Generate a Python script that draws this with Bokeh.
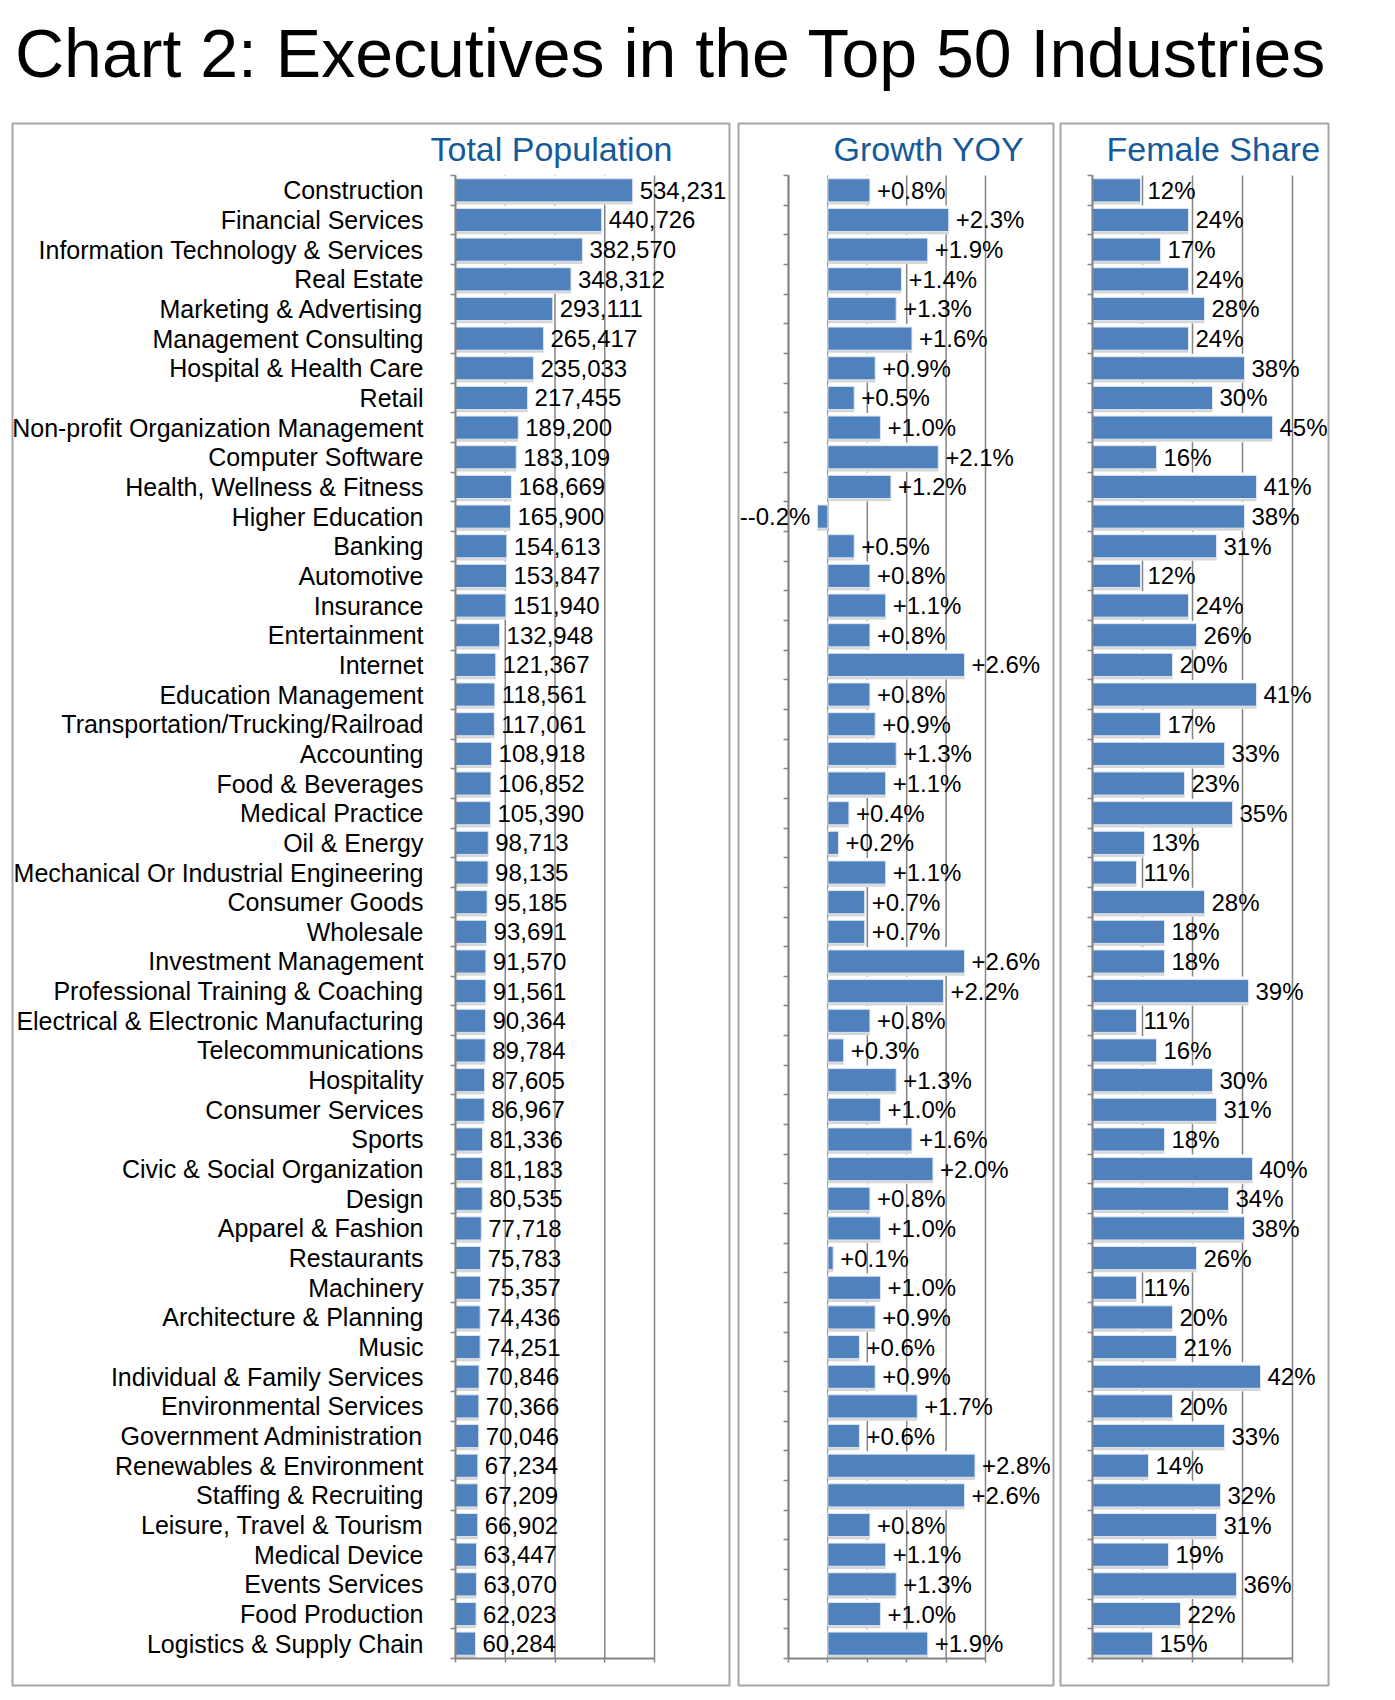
from bokeh.plotting import figure
from bokeh.models import (ColumnDataSource, Range1d, FixedTicker, LabelSet, Label, Div)
from bokeh.core.properties import value
from bokeh.layouts import row, column
from bokeh.embed import file_html
from bokeh.resources import INLINE

# ---------------- data ----------------
industries = [
    "Construction", "Financial Services", "Information Technology & Services", "Real Estate",
    "Marketing & Advertising", "Management Consulting", "Hospital & Health Care", "Retail",
    "Non-profit Organization Management", "Computer Software", "Health, Wellness & Fitness",
    "Higher Education", "Banking", "Automotive", "Insurance", "Entertainment", "Internet",
    "Education Management", "Transportation/Trucking/Railroad", "Accounting", "Food & Beverages",
    "Medical Practice", "Oil & Energy", "Mechanical Or Industrial Engineering", "Consumer Goods",
    "Wholesale", "Investment Management", "Professional Training & Coaching",
    "Electrical & Electronic Manufacturing", "Telecommunications", "Hospitality",
    "Consumer Services", "Sports", "Civic & Social Organization", "Design", "Apparel & Fashion",
    "Restaurants", "Machinery", "Architecture & Planning", "Music", "Individual & Family Services",
    "Environmental Services", "Government Administration", "Renewables & Environment",
    "Staffing & Recruiting", "Leisure, Travel & Tourism", "Medical Device", "Events Services",
    "Food Production", "Logistics & Supply Chain",
]
population = [
    534231, 440726, 382570, 348312, 293111, 265417, 235033, 217455, 189200, 183109,
    168669, 165900, 154613, 153847, 151940, 132948, 121367, 118561, 117061, 108918,
    106852, 105390, 98713, 98135, 95185, 93691, 91570, 91561, 90364, 89784,
    87605, 86967, 81336, 81183, 80535, 77718, 75783, 75357, 74436, 74251,
    70846, 70366, 70046, 67234, 67209, 66902, 63447, 63070, 62023, 60284,
]
growth_yoy = [
    0.8, 2.3, 1.9, 1.4, 1.3, 1.6, 0.9, 0.5, 1.0, 2.1,
    1.2, -0.2, 0.5, 0.8, 1.1, 0.8, 2.6, 0.8, 0.9, 1.3,
    1.1, 0.4, 0.2, 1.1, 0.7, 0.7, 2.6, 2.2, 0.8, 0.3,
    1.3, 1.0, 1.6, 2.0, 0.8, 1.0, 0.1, 1.0, 0.9, 0.6,
    0.9, 1.7, 0.6, 2.8, 2.6, 0.8, 1.1, 1.3, 1.0, 1.9,
]
female_share = [
    12, 24, 17, 24, 28, 24, 38, 30, 45, 16,
    41, 38, 31, 12, 24, 26, 20, 41, 17, 33,
    23, 35, 13, 11, 28, 18, 18, 39, 11, 16,
    30, 31, 18, 40, 34, 38, 26, 11, 20, 21,
    42, 20, 33, 14, 32, 31, 19, 36, 22, 15,
]
pop_ticks = [0, 150000, 300000, 450000, 600000]
growth_ticks = [-0.75, 0, 0.75, 1.5, 2.25, 3.0]
female_ticks = [0, 12.5, 25, 37.5, 50]

chart_title = "Chart 2: Executives in the Top 50 Industries"
panel_titles = ["Total Population", "Growth YOY", "Female Share"]

pop_text = [f"{v:,}" for v in population]
growth_text = [("+" if v >= 0 else "-") + f"{v:.1f}%" for v in growth_yoy]
female_text = [f"{v}%" for v in female_share]

# ---------------- style / layout (page pixels) ----------------
FONT = "Liberation Sans"
BAR = "#4f81bd"
GREY = "#858585"
BOX = "#a6a6a6"
BLUE = "#165a98"

DIV_H = 105
FIG_TOP = 8 + DIV_H          # page y of figure canvases
BOX_TOP, BOX_BOTTOM = 121, 1683
PLOT_TOP, PLOT_BOTTOM = 173, 1656
FIG_H = BOX_BOTTOM + 2 - FIG_TOP
TITLE_BASE = 146

n = len(industries)
band = (PLOT_BOTTOM - PLOT_TOP) / n
y_top = -0.5 - (PLOT_TOP - BOX_TOP) / band
y_bot = (n - 0.5) + (BOX_BOTTOM - PLOT_BOTTOM) / band


def make_panel(values, texts, ticks, area_px, box_px, fig_px, title, title_px, show_cats):
    a0, a1 = area_px
    b0, b1 = box_px
    f0, f1 = fig_px
    t0, t1 = ticks[0], ticks[-1]
    sc = (t1 - t0) / (a1 - a0)
    x0 = t0 - (a0 - b0) * sc
    x1 = t1 + (b1 - a1) * sc

    ys = list(range(n))
    src = ColumnDataSource(dict(y=ys, ysh=[y + 0.09 for y in ys], v=values, zero=[0] * n))
    pos = [i for i in ys if values[i] >= 0]
    neg = [i for i in ys if values[i] < 0]
    src_pos = ColumnDataSource(dict(y=pos, v=[values[i] for i in pos], t=[texts[i] for i in pos]))
    src_neg = ColumnDataSource(dict(y=neg, v=[values[i] for i in neg], t=[texts[i] for i in neg]))
    grid_src = ColumnDataSource(dict(x=ticks, y0=[-0.5] * len(ticks), y1=[n - 0.5] * len(ticks)))

    p = figure(width=f1 - f0, height=FIG_H, x_range=Range1d(x0, x1), y_range=Range1d(y_bot, y_top),
               output_backend="svg", toolbar_location=None, title=None,
               min_border_left=b0 - f0, min_border_right=f1 - b1,
               min_border_top=BOX_TOP - FIG_TOP, min_border_bottom=FIG_TOP + FIG_H - BOX_BOTTOM)
    p.outline_line_color = BOX
    p.outline_line_width = 2
    p.background_fill_color = "white"
    p.border_fill_color = "white"
    p.grid.visible = False

    # vertical gridlines at the value ticks
    p.segment(x0="x", x1="x", y0="y0", y1="y1", source=grid_src, line_color=GREY, line_width=1.5)

    # x axis (bottom of plot area), tick marks only
    xa = p.xaxis[0]
    xa.fixed_location = n - 0.5
    xa.bounds = (t0, t1)
    xa.ticker = FixedTicker(ticks=[], minor_ticks=ticks)
    xa.axis_line_color = GREY
    xa.axis_line_width = 2
    xa.major_tick_line_color = None
    xa.minor_tick_line_color = GREY
    xa.minor_tick_line_width = 1.5
    xa.minor_tick_out = 4
    xa.minor_tick_in = 0

    # y axis (left of plot area)
    ya = p.yaxis[0]
    ya.fixed_location = t0
    ya.bounds = (-0.5, n - 0.5)
    ya.ticker = FixedTicker(ticks=ys if show_cats else [],
                            minor_ticks=[i - 0.5 for i in range(n + 1)])
    ya.axis_line_color = GREY
    ya.axis_line_width = 2
    ya.major_tick_out = 0
    ya.major_tick_in = 0
    ya.minor_tick_out = 5
    ya.minor_tick_in = 0
    ya.minor_tick_line_color = GREY
    ya.minor_tick_line_width = 1.5
    if show_cats:
        ya.major_label_overrides = {i: name for i, name in enumerate(industries)}
        ya.major_label_text_font = FONT
        ya.major_label_text_font_size = "25px"
        ya.major_label_text_color = "black"
        ya.major_label_standoff = 27

    # bars: white halo, soft shadow, bar
    p.hbar(y="y", left="zero", right="v", height=0.98, source=src,
           fill_color="white", line_color=None)
    p.hbar(y="ysh", left="zero", right="v", height=0.78, source=src,
           fill_color="black", fill_alpha=0.16, line_color=None)
    p.hbar(y="y", left="zero", right="v", height=0.78, source=src,
           fill_color=BAR, line_color="#dde6f2", line_width=1)

    # value labels
    p.add_layout(LabelSet(x="v", y="y", text="t", source=src_pos, x_offset=7,
                          text_align="left", text_baseline="middle",
                          text_font=value(FONT), text_font_size="24px", text_color="black"))
    if neg:
        p.add_layout(LabelSet(x="v", y="y", text="t", source=src_neg, x_offset=-7,
                              text_align="right", text_baseline="middle",
                              text_font=value(FONT), text_font_size="24px", text_color="black"))

    # panel title
    p.add_layout(Label(x=x0 + (title_px - b0) * sc, y=-0.5 + (TITLE_BASE - PLOT_TOP) / band,
                       text=title, text_font=FONT, text_font_size="34px", text_color=BLUE,
                       text_baseline="alphabetic", text_align="left"))
    return p


p1 = make_panel(population, pop_text, pop_ticks, (455, 654), (12, 729), (0, 731),
                panel_titles[0], 430, True)
p2 = make_panel(growth_yoy, growth_text, growth_ticks, (788, 985), (738, 1053), (731, 1055),
                panel_titles[1], 833, False)
p3 = make_panel(female_share, female_text, female_ticks, (1092, 1292), (1060, 1328), (1055, 1330),
                panel_titles[2], 1106, False)

title = Div(
    text=(f'<div style="font-family:\'{FONT}\';font-size:68px;line-height:77px;color:#000;'
          f'padding:10px 0 0 10px;white-space:nowrap;">{chart_title}</div>'),
    width=1330, height=DIV_H)

layout = column(title, row(p1, p2, p3))
open("out.html", "w").write(file_html(layout, INLINE))
